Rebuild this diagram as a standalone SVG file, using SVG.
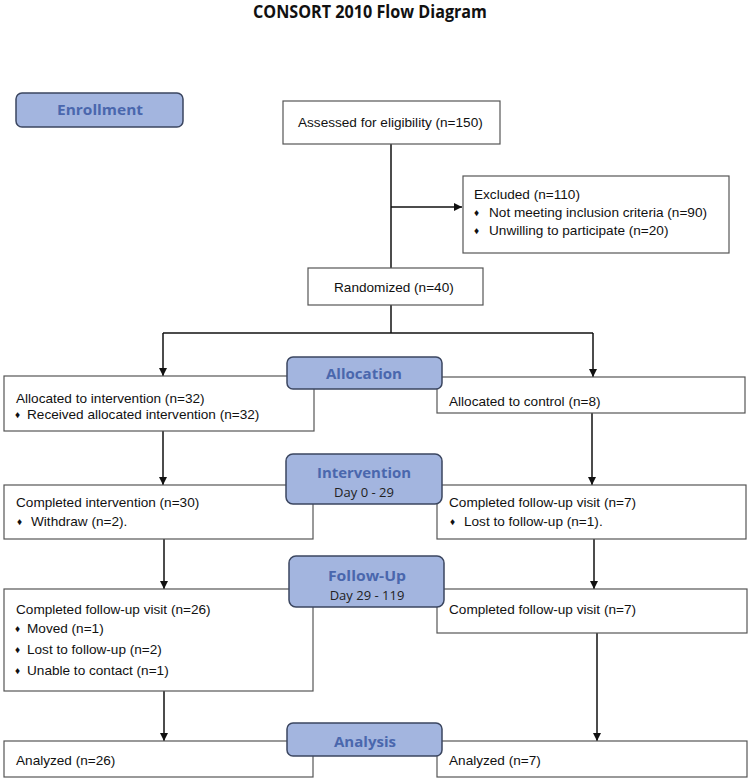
<svg xmlns="http://www.w3.org/2000/svg" width="752" height="782" viewBox="0 0 752 782">
<defs>
<marker id="ah" viewBox="0 0 10 10" refX="10" refY="5" markerWidth="8" markerHeight="8" markerUnits="userSpaceOnUse" orient="auto">
<path d="M0,0 L10,5 L0,10 z" fill="#111"/>
</marker>
<style>
.box{fill:#fff;stroke:#555;stroke-width:1.2}
.lab{fill:#a3b5df;stroke:#3b4660;stroke-width:1.5}
.t{font-family:"Liberation Sans",Arial,sans-serif;font-size:13.6px;fill:#111}
.b{font-family:"Liberation Sans",Arial,sans-serif;font-size:10px;fill:#111}
.lt{font-family:"Open Sans","Noto Sans",sans-serif;font-weight:700;font-size:15px;fill:#4a67ad;text-anchor:middle}
.st{font-family:"Open Sans","Noto Sans",sans-serif;font-size:13px;fill:#222;text-anchor:middle}
.title{font-family:"Open Sans","Noto Sans",sans-serif;font-weight:700;font-size:17px;fill:#111;text-anchor:middle}
.c{fill:none;stroke:#111;stroke-width:1.5}
</style>
</defs>
<rect width="752" height="782" fill="#fff"/>
<text class="title" x="370" y="18" textLength="234" lengthAdjust="spacingAndGlyphs">CONSORT 2010 Flow Diagram</text>

<g id="connectors">
<path class="c" d="M391,144 V268"/>
<path class="c" d="M391,207 H462" marker-end="url(#ah)"/>
<path class="c" d="M391,305 V333"/>
<path class="c" d="M163,333 H593"/>
<path class="c" d="M163,333 V376" marker-end="url(#ah)"/>
<path class="c" d="M593,333 V377" marker-end="url(#ah)"/>
<path class="c" d="M163,431 V485" marker-end="url(#ah)"/>
<path class="c" d="M592,413 V485" marker-end="url(#ah)"/>
<path class="c" d="M164,539 V589" marker-end="url(#ah)"/>
<path class="c" d="M594,539 V589" marker-end="url(#ah)"/>
<path class="c" d="M164,691 V741" marker-end="url(#ah)"/>
<path class="c" d="M597,633 V741" marker-end="url(#ah)"/>
</g>

<g id="assessed">
<rect class="box" x="283" y="101" width="217" height="43"/>
<text class="t" x="298" y="127">Assessed for eligibility (n=150)</text>
</g>
<g id="excluded">
<rect class="box" x="463" y="176" width="266" height="77"/>
<text class="t" x="474" y="199">Excluded  (n=110)</text>
<text class="b" x="474" y="216">♦</text>
<text class="t" x="489" y="217">Not meeting inclusion criteria (n=90)</text>
<text class="b" x="474" y="234">♦</text>
<text class="t" x="489" y="235">Unwilling to participate (n=20)</text>
</g>
<g id="randomized">
<rect class="box" x="308" y="268" width="175" height="37"/>
<text class="t" x="334" y="292">Randomized (n=40)</text>
</g>

<g id="alloc-int">
<rect class="box" x="4" y="376" width="310" height="55"/>
<text class="t" x="16" y="403">Allocated to intervention (n=32)</text>
<text class="b" x="15" y="418">♦</text>
<text class="t" x="27" y="419">Received allocated intervention (n=32)</text>
</g>
<g id="alloc-ctrl">
<rect class="box" x="437" y="377" width="308" height="36"/>
<text class="t" x="449" y="406">Allocated to control (n=8)</text>
</g>

<g id="comp-int">
<rect class="box" x="4" y="485" width="309" height="54"/>
<text class="t" x="16" y="507">Completed intervention (n=30)</text>
<text class="b" x="17" y="525">♦</text>
<text class="t" x="31" y="526">Withdraw (n=2).</text>
</g>
<g id="comp-ctrl">
<rect class="box" x="437" y="485" width="309" height="54"/>
<text class="t" x="449" y="507">Completed follow-up visit (n=7)</text>
<text class="b" x="450" y="525">♦</text>
<text class="t" x="464" y="526">Lost to follow-up (n=1).</text>
</g>

<g id="fu-int">
<rect class="box" x="4" y="589" width="309" height="102"/>
<text class="t" x="16" y="614">Completed follow-up visit (n=26)</text>
<text class="b" x="15" y="632">♦</text>
<text class="t" x="27" y="633">Moved (n=1)</text>
<text class="b" x="15" y="653">♦</text>
<text class="t" x="27" y="654">Lost to follow-up (n=2)</text>
<text class="b" x="15" y="674">♦</text>
<text class="t" x="27" y="675">Unable to contact (n=1)</text>
</g>
<g id="fu-ctrl">
<rect class="box" x="437" y="589" width="310" height="44"/>
<text class="t" x="449" y="614">Completed follow-up visit (n=7)</text>
</g>

<g id="an-int">
<rect class="box" x="4" y="741" width="309" height="36"/>
<text class="t" x="16" y="765">Analyzed (n=26)</text>
</g>
<g id="an-ctrl">
<rect class="box" x="437" y="741" width="310" height="36"/>
<text class="t" x="449" y="765">Analyzed (n=7)</text>
</g>

<g id="lab-enrollment">
<rect class="lab" x="16" y="93" width="167" height="34" rx="6"/>
<text class="lt" x="100" y="115" textLength="86" lengthAdjust="spacingAndGlyphs">Enrollment</text>
</g>
<g id="lab-allocation">
<rect class="lab" x="287" y="357" width="155" height="32" rx="6"/>
<text class="lt" x="364" y="379" textLength="76" lengthAdjust="spacingAndGlyphs">Allocation</text>
</g>
<g id="lab-intervention">
<rect class="lab" x="286" y="454" width="156" height="50" rx="7"/>
<text class="lt" x="364" y="478" textLength="94" lengthAdjust="spacingAndGlyphs">Intervention</text>
<text class="st" x="364" y="497">Day 0 - 29</text>
</g>
<g id="lab-followup">
<rect class="lab" x="289" y="556" width="155" height="51" rx="7"/>
<text class="lt" x="367" y="581" textLength="78" lengthAdjust="spacingAndGlyphs">Follow-Up</text>
<text class="st" x="367" y="600">Day 29 - 119</text>
</g>
<g id="lab-analysis">
<rect class="lab" x="287" y="723" width="155" height="33" rx="6"/>
<text class="lt" x="365" y="747" textLength="62" lengthAdjust="spacingAndGlyphs">Analysis</text>
</g>
</svg>
